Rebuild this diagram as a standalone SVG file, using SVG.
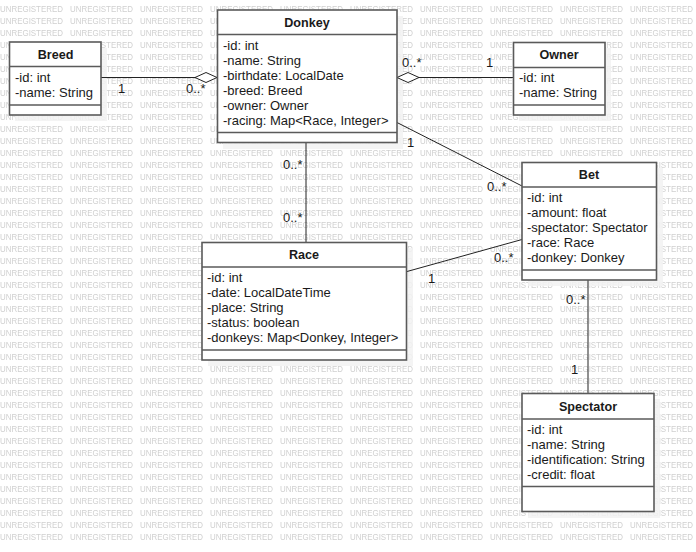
<svg xmlns="http://www.w3.org/2000/svg" width="696" height="552" viewBox="0 0 696 552">
<style>
.box{fill:#fff;stroke:#5a5a5a;stroke-width:1.6}
.sh{fill:#f2f2f2;opacity:0.85}
.div{stroke:#5a5a5a;stroke-width:1.6}
.t{font-family:"Liberation Sans",Arial,sans-serif;font-size:13px;fill:#1a1a1a}
.b{font-weight:bold;text-anchor:middle;font-size:12.6px}
.ln{stroke:#222;stroke-width:1;fill:none}
.dm{fill:#fff;stroke:#222;stroke-width:1}
.wm{font-family:"Liberation Sans",Arial,sans-serif;font-size:9.5px;fill:#d0d0d0}
</style>
<defs>
<pattern id="wmp" x="0" y="2" width="70" height="12" patternUnits="userSpaceOnUse">
<text class="wm" x="0" y="10" textLength="63" lengthAdjust="spacingAndGlyphs">UNREGISTERED</text>
</pattern>
</defs>
<rect x="0" y="0" width="696" height="552" fill="#fff"/>
<rect x="0" y="0" width="696" height="543" fill="url(#wmp)"/>
<g id="shadows">
<rect class="sh" x="15" y="48" width="92" height="73"/>
<rect class="sh" x="223" y="16" width="180" height="133"/>
<rect class="sh" x="519" y="48" width="92" height="73"/>
<rect class="sh" x="208" y="248" width="205" height="118"/>
<rect class="sh" x="528" y="168" width="135" height="118"/>
<rect class="sh" x="528" y="399" width="132" height="119"/>
</g>
<g id="connectors">
<line class="ln" x1="101" y1="77.5" x2="217" y2="77.5"/>
<polygon class="dm" points="217,77.5 206,72.5 195,77.5 206,82.5"/>
<text class="t" x="118" y="93">1</text>
<text class="t" x="186" y="93">0..*</text>
<line class="ln" x1="397" y1="77.5" x2="513" y2="77.5"/>
<polygon class="dm" points="397,77.5 408,72.5 419,77.5 408,82.5"/>
<text class="t" x="402" y="67">0..*</text>
<text class="t" x="486" y="67">1</text>
<line class="ln" x1="397" y1="122.5" x2="522" y2="186"/>
<text class="t" x="407" y="147">1</text>
<text class="t" x="487" y="191">0..*</text>
<line class="ln" x1="306" y1="143" x2="306" y2="242"/>
<text class="t" x="283" y="169">0..*</text>
<text class="t" x="283" y="222">0..*</text>
<line class="ln" x1="407" y1="271.5" x2="522" y2="239.5"/>
<text class="t" x="428" y="283">1</text>
<text class="t" x="494" y="262">0..*</text>
<line class="ln" x1="588" y1="280" x2="588" y2="393"/>
<text class="t" x="566" y="304">0..*</text>
<text class="t" x="571" y="374">1</text>
</g>
<g id="Breed">
<rect class="box" x="9.5" y="42" width="91.5" height="73"/>
<line class="div" x1="9.5" y1="66.5" x2="101" y2="66.5"/>
<line class="div" x1="9.5" y1="105" x2="101" y2="105"/>
<text class="t b" x="55.5" y="58.5">Breed</text>
<text class="t" x="15" y="82">-id: int</text>
<text class="t" x="15" y="97">-name: String</text>
</g>
<g id="Donkey">
<rect class="box" x="217.5" y="10" width="179.5" height="132.5"/>
<line class="div" x1="217.5" y1="34.5" x2="397" y2="34.5"/>
<line class="div" x1="217.5" y1="132.5" x2="397" y2="132.5"/>
<text class="t b" x="307" y="27">Donkey</text>
<text class="t" x="223" y="50">-id: int</text>
<text class="t" x="223" y="65">-name: String</text>
<text class="t" x="223" y="80">-birthdate: LocalDate</text>
<text class="t" x="223" y="95">-breed: Breed</text>
<text class="t" x="223" y="110">-owner: Owner</text>
<text class="t" x="223" y="125">-racing: Map&lt;Race, Integer&gt;</text>
</g>
<g id="Owner">
<rect class="box" x="513.5" y="42.5" width="91.5" height="72.5"/>
<line class="div" x1="513.5" y1="67.5" x2="605" y2="67.5"/>
<line class="div" x1="513.5" y1="105" x2="605" y2="105"/>
<text class="t b" x="559" y="58.5">Owner</text>
<text class="t" x="519" y="82">-id: int</text>
<text class="t" x="519" y="97">-name: String</text>
</g>
<g id="Race">
<rect class="box" x="202" y="242.5" width="204.5" height="117.5"/>
<line class="div" x1="202" y1="267" x2="406.5" y2="267"/>
<line class="div" x1="202" y1="350" x2="406.5" y2="350"/>
<text class="t b" x="304" y="258.5">Race</text>
<text class="t" x="207" y="281.5">-id: int</text>
<text class="t" x="207" y="296.5">-date: LocalDateTime</text>
<text class="t" x="207" y="311.5">-place: String</text>
<text class="t" x="207" y="326.5">-status: boolean</text>
<text class="t" x="207" y="341.5">-donkeys: Map&lt;Donkey, Integer&gt;</text>
</g>
<g id="Bet">
<rect class="box" x="522" y="162.5" width="134.5" height="117.5"/>
<line class="div" x1="522" y1="187" x2="656.5" y2="187"/>
<line class="div" x1="522" y1="270" x2="656.5" y2="270"/>
<text class="t b" x="589" y="179">Bet</text>
<text class="t" x="527" y="201.5">-id: int</text>
<text class="t" x="527" y="216.5">-amount: float</text>
<text class="t" x="527" y="231.5">-spectator: Spectator</text>
<text class="t" x="527" y="246.5">-race: Race</text>
<text class="t" x="527" y="261.5">-donkey: Donkey</text>
</g>
<g id="Spectator">
<rect class="box" x="522" y="393.5" width="132" height="118"/>
<line class="div" x1="522" y1="419" x2="654" y2="419"/>
<line class="div" x1="522" y1="486.5" x2="654" y2="486.5"/>
<text class="t b" x="588" y="411">Spectator</text>
<text class="t" x="527" y="433.5">-id: int</text>
<text class="t" x="527" y="448.5">-name: String</text>
<text class="t" x="527" y="463.5">-identification: String</text>
<text class="t" x="527" y="478.5">-credit: float</text>
</g>
</svg>
